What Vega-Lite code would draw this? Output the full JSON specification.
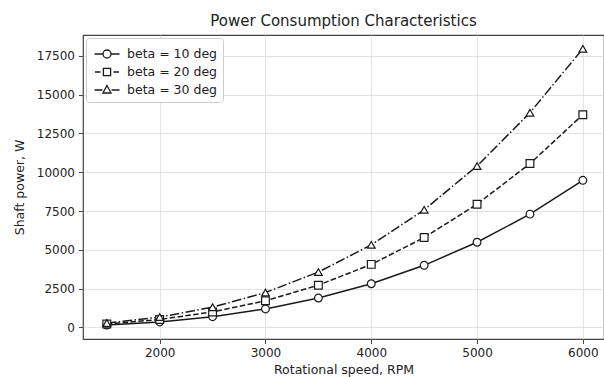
{
  "$schema": "https://vega.github.io/schema/vega-lite/v6.json",
  "width": 521,
  "height": 304,
  "autosize": {"type": "none"},
  "padding": {"left": 83, "top": 35, "right": 0, "bottom": 38},
  "background": "white",
  "title": {"text": "Power Consumption Characteristics", "fontSize": 15, "font": "DejaVu Sans", "fontWeight": "normal", "color": "#222", "offset": 6},
  "config": {
    "font": "DejaVu Sans",
    "view": {"stroke": "#444", "strokeWidth": 1.2},
    "axis": {"domain": false, "gridColor": "#dcdcdc", "gridWidth": 0.8, "tickColor": "#444", "tickSize": 4.5, "labelFontSize": 12, "labelColor": "#222", "titleFontSize": 12.5, "titleColor": "#222", "titleFontWeight": "normal", "labelPadding": 4, "format": "d"}
  },
  "data": {"values": [
    {"rpm": 1500, "power": 150, "beta": "beta = 10 deg"},
    {"rpm": 2000, "power": 350, "beta": "beta = 10 deg"},
    {"rpm": 2500, "power": 690, "beta": "beta = 10 deg"},
    {"rpm": 3000, "power": 1190, "beta": "beta = 10 deg"},
    {"rpm": 3500, "power": 1890, "beta": "beta = 10 deg"},
    {"rpm": 4000, "power": 2810, "beta": "beta = 10 deg"},
    {"rpm": 4500, "power": 4000, "beta": "beta = 10 deg"},
    {"rpm": 5000, "power": 5490, "beta": "beta = 10 deg"},
    {"rpm": 5500, "power": 7300, "beta": "beta = 10 deg"},
    {"rpm": 6000, "power": 9480, "beta": "beta = 10 deg"},
    {"rpm": 1500, "power": 215, "beta": "beta = 20 deg"},
    {"rpm": 2000, "power": 510, "beta": "beta = 20 deg"},
    {"rpm": 2500, "power": 995, "beta": "beta = 20 deg"},
    {"rpm": 3000, "power": 1715, "beta": "beta = 20 deg"},
    {"rpm": 3500, "power": 2720, "beta": "beta = 20 deg"},
    {"rpm": 4000, "power": 4060, "beta": "beta = 20 deg"},
    {"rpm": 4500, "power": 5790, "beta": "beta = 20 deg"},
    {"rpm": 5000, "power": 7940, "beta": "beta = 20 deg"},
    {"rpm": 5500, "power": 10560, "beta": "beta = 20 deg"},
    {"rpm": 6000, "power": 13710, "beta": "beta = 20 deg"},
    {"rpm": 1500, "power": 280, "beta": "beta = 30 deg"},
    {"rpm": 2000, "power": 665, "beta": "beta = 30 deg"},
    {"rpm": 2500, "power": 1300, "beta": "beta = 30 deg"},
    {"rpm": 3000, "power": 2245, "beta": "beta = 30 deg"},
    {"rpm": 3500, "power": 3565, "beta": "beta = 30 deg"},
    {"rpm": 4000, "power": 5320, "beta": "beta = 30 deg"},
    {"rpm": 4500, "power": 7580, "beta": "beta = 30 deg"},
    {"rpm": 5000, "power": 10400, "beta": "beta = 30 deg"},
    {"rpm": 5500, "power": 13840, "beta": "beta = 30 deg"},
    {"rpm": 6000, "power": 17960, "beta": "beta = 30 deg"}
  ]},
  "encoding": {
    "x": {"field": "rpm", "type": "quantitative", "scale": {"domain": [1275, 6200], "nice": false, "zero": false}, "axis": {"values": [2000, 3000, 4000, 5000, 6000], "title": "Rotational speed, RPM", "titlePadding": 5}},
    "y": {"field": "power", "type": "quantitative", "scale": {"domain": [-750, 18850], "nice": false}, "axis": {"values": [0, 2500, 5000, 7500, 10000, 12500, 15000, 17500], "title": "Shaft power, W", "titlePadding": 10}}
  },
  "resolve": {"scale": {"shape": "independent"}, "legend": {"shape": "independent"}},
  "layer": [
    {
      "transform": [{"filter": "datum.beta === 'beta = 10 deg'"}],
      "mark": {"type": "line", "color": "#1a1a1a", "strokeWidth": 1.5},
      "encoding": {}
    },
    {
      "transform": [{"filter": "datum.beta === 'beta = 20 deg'"}],
      "mark": {"type": "line", "color": "#1a1a1a", "strokeWidth": 1.5, "strokeDash": [5.5, 2.4]},
      "encoding": {}
    },
    {
      "transform": [{"filter": "datum.beta === 'beta = 30 deg'"}],
      "mark": {"type": "line", "color": "#1a1a1a", "strokeWidth": 1.5, "strokeDash": [9.6, 2.4, 1.5, 2.4]},
      "encoding": {}
    },
    {
      "mark": {"type": "point", "filled": false, "fill": "white", "fillOpacity": 1, "stroke": "#1a1a1a", "strokeWidth": 1.2, "opacity": 1, "size": 60},
      "encoding": {
        "shape": {"field": "beta", "type": "nominal", "scale": {"domain": ["beta = 10 deg", "beta = 20 deg", "beta = 30 deg"], "range": ["circle", "square", "triangle-up"]}, "legend": null}
      }
    },
    {
      "transform": [{"filter": "datum.rpm < 0"}],
      "mark": {"type": "point", "color": "#1a1a1a", "filled": false, "strokeWidth": 1.3, "opacity": 1},
      "encoding": {
        "shape": {"field": "beta", "type": "nominal",
          "scale": {"domain": ["beta = 10 deg", "beta = 20 deg", "beta = 30 deg"], "range": [
            "M-1.25,0H-0.4M0.4,0H1.25M-0.4,0A0.4,0.4,0,1,1,0.4,0A0.4,0.4,0,1,1,-0.4,0Z",
            "M-1.2,0H-0.65M0.65,0H1.2M-0.36,-0.36H0.36V0.36H-0.36Z",
            "M-1.25,0H-0.45M0.45,0H1.25M0,-0.45L0.4,0.3L-0.4,0.3Z"]},
          "legend": {
            "title": null, "orient": "top-left", "offset": 3,
            "fillColor": "white", "strokeColor": "#cccccc", "cornerRadius": 3, "padding": 5,
            "symbolSize": 400, "symbolOffset": 5, "labelOffset": 9, "rowPadding": -1,
            "labelFontSize": 12.5, "labelColor": "#222", "labelFont": "DejaVu Sans",
            "symbolStrokeWidth": 1.3
          }
        }
      }
    }
  ]
}
